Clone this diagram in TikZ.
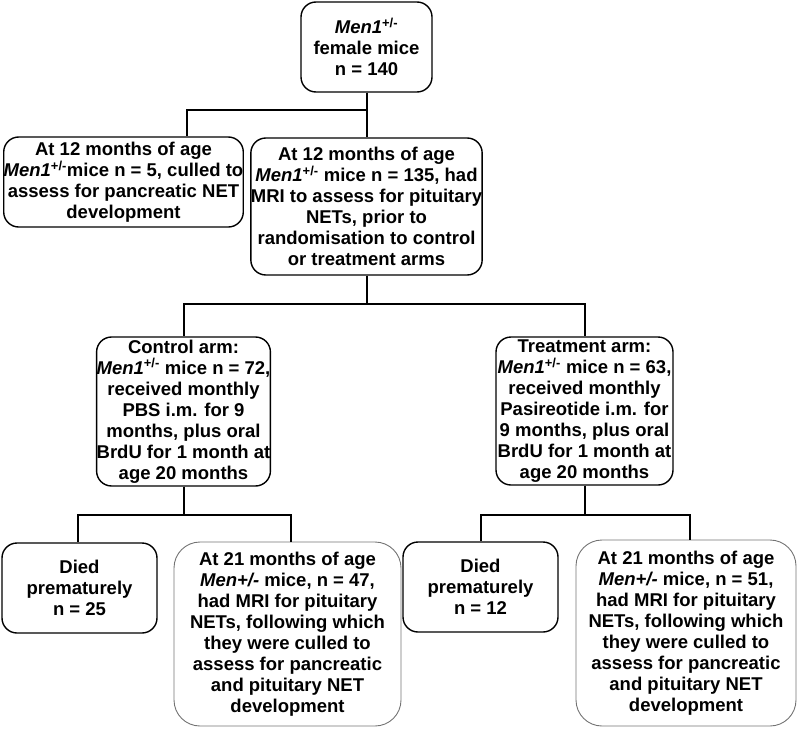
\documentclass[tikz,border=0pt]{standalone}
\usepackage{fontspec}
\setmainfont{Liberation Sans}
\tikzset{
  stagebox/.style={draw, line width=1.4pt, rounded corners=15pt, align=center,
    inner sep=0pt, font=\fontsize{18.5}{21}\selectfont\bfseries},
  endbox/.style={stagebox, draw=black!55, line width=0.9pt, rounded corners=26pt},
  link/.style={line width=2pt}
}
\newcommand{\menone}{\textit{Men1}\textsuperscript{+/-}}
\begin{document}
\begin{tikzpicture}[x=1pt,y=-1pt]
\useasboundingbox (0,0) rectangle (797,728);
% study population
\node[stagebox, minimum width=131pt, minimum height=90pt] (mother) at (366.5,47)
  {\menone\\female mice\\n = 140};
\node[stagebox, minimum width=233pt, minimum height=90pt] (cull12) at (123.5,182)
  {At 12 months of age\\\menone mice n = 5, culled to\\assess for pancreatic NET\\development};
\node[stagebox, minimum width=229pt, minimum height=137pt] (mri12) at (366.5,206.5)
  {At 12 months of age\\\menone{} mice n = 135, had\\MRI to assess for pituitary\\NETs, prior to\\randomisation to control\\or treatment arms};
% the two arms
\node[stagebox, minimum width=173pt, minimum height=149pt] (control) at (183.5,411.5)
  {Control arm:\\\menone{} mice n = 72,\\received monthly\\PBS i.m. for 9\\months, plus oral\\BrdU for 1 month at\\age 20 months};
\node[stagebox, minimum width=177pt, minimum height=148pt] (treat) at (584.5,411)
  {Treatment arm:\\\menone{} mice n = 63,\\received monthly\\Pasireotide i.m. for\\9 months, plus oral\\BrdU for 1 month at\\age 20 months};
% outcomes
\node[stagebox, minimum width=155pt, minimum height=90pt] (diedA) at (79.5,588)
  {Died\\prematurely\\n = 25};
\node[endbox, minimum width=227pt, minimum height=184pt] (endA) at (287.5,634)
  {At 21 months of age\\\textit{Men+/-} mice, n = 47,\\had MRI for pituitary\\NETs, following which\\they were culled to\\assess for pancreatic\\and pituitary NET\\development};
\node[stagebox, minimum width=155pt, minimum height=90pt] (diedB) at (480.5,587)
  {Died\\prematurely\\n = 12};
\node[endbox, minimum width=220pt, minimum height=186pt] (endB) at (686,633)
  {At 21 months of age\\\textit{Men+/-} mice, n = 51,\\had MRI for pituitary\\NETs, following which\\they were culled to\\assess for pancreatic\\and pituitary NET\\development};
% connectors
\draw[link] (mother.south) -- ++(0,17) -| ([xshift=63.5pt]cull12.north);
\draw[link] (mother.south) -- (mri12.north);
\draw[link] (mri12.south) -- ++(0,28) -| (control.north);
\draw[link] (mri12.south) -- ++(0,28) -| (treat.north);
\draw[link] (control.south) -- ++(0,28) -| ([xshift=-1.5pt]diedA.north);
\draw[link] (control.south) -- ++(0,28) -| ([xshift=3.5pt]endA.north);
\draw[link] (treat.south) -- ++(0,29) -| (diedB.north);
\draw[link] (treat.south) -- ++(0,29) -| ([xshift=4pt]endB.north);
\end{tikzpicture}
\end{document}
